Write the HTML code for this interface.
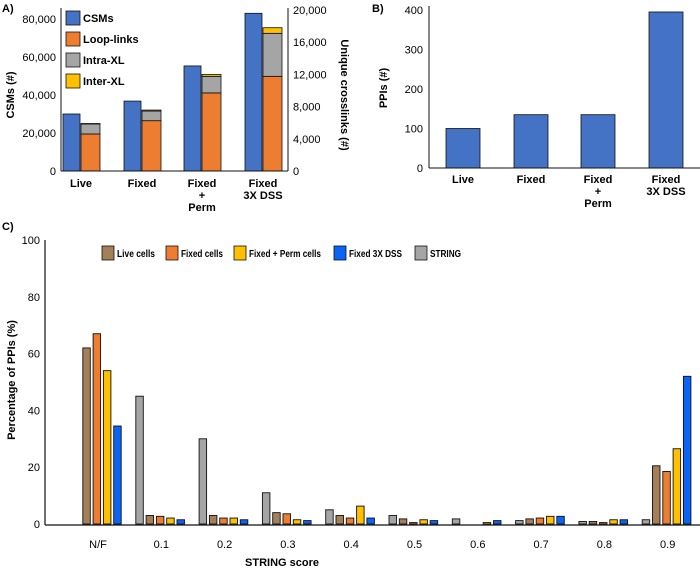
<!DOCTYPE html>
<html><head><meta charset="utf-8"><style>
body{margin:0;background:#fff}
svg{display:block;font-family:"Liberation Sans",Arial,sans-serif}
.b{font-weight:bold}
</style></head><body>
<svg id="s" width="700" height="568" viewBox="0 0 700 568"></svg>
<script>
const aCats=[["Live"],["Fixed"],["Fixed","+","Perm"],["Fixed","3X DSS"]];
const aCSM=[30000,36800,55300,83000];
const aLoop=[4600,6250,9700,11760];
const aIntra=[1240,1200,2060,5340];
const aInter=[60,120,240,700];
const aLeftTicks=[0,20000,40000,60000,80000];
const aRightTicks=[0,4000,8000,12000,16000,20000];
const bVals=[100,135,135,395];
const bTicks=[0,100,200,300,400];
const cCats=["N/F","0.1","0.2","0.3","0.4","0.5","0.6","0.7","0.8","0.9"];
const cString=[0,45,30,11,5,3,1.8,1.2,0.9,1.5];
const cLive=[62,3,3,4,3,1.8,0,1.8,0.9,20.5];
const cFixed=[67,2.7,2.1,3.6,2.1,0.5,0,2.1,0.5,18.5];
const cPerm=[54,2.1,2.1,1.5,6.3,1.5,0.5,2.7,1.5,26.5];
const cDSS=[34.5,1.5,1.5,1.2,2.1,1.2,1.2,2.7,1.5,52];
const cTicks=[0,20,40,60,80,100];

const S=document.getElementById('s');const NS="http://www.w3.org/2000/svg";
function mk(t,a,txt){const e=document.createElementNS(NS,t);for(const k in a)e.setAttribute(k,a[k]);if(txt!==undefined)e.textContent=txt;S.appendChild(e);return e;}
function fmt(v){return v.toLocaleString('en-US');}
const BLUE="#4472c4",OR="#ed7d31",GR="#a5a5a5",YE="#ffc000";

// ---- Panel A ----
let e;
e=mk('text',{x:2,y:12,'font-size':11,class:'b'},'A)');


const ayL=v=>171-v*(152/80000), ayR=v=>171-v*(161/20000);
aLeftTicks.forEach(t=>{e=mk('text',{x:56,y:ayL(t)+4,'font-size':11,'text-anchor':'end'},fmt(t));

});
aRightTicks.forEach(t=>{e=mk('text',{x:293,y:ayR(t)+4,'font-size':11},fmt(t));

});
e=mk('text',{x:0,y:0,'font-size':11,class:'b','text-anchor':'middle',transform:'translate(14,95) rotate(-90)'},'CSMs (#)');


e=mk('text',{x:0,y:0,'font-size':11,class:'b','text-anchor':'middle',transform:'translate(341,95) rotate(90)'},'Unique crosslinks (#)');


const aX=[63,124,184,245];
aCats.forEach((c,i)=>{
 const x=aX[i];
 e=mk('rect',{x:x,y:ayL(aCSM[i]),width:17,height:171-ayL(aCSM[i]),fill:BLUE,stroke:'#111','stroke-width':0.8});
 
 
 let base=0;const x2=x+18;
 [[aLoop,OR,'a-loop-bar'],[aIntra,GR,'a-intra-bar'],[aInter,YE,'a-inter-bar']].forEach(([arr,col,nm])=>{
  const y0=ayR(base),y1=ayR(base+arr[i]);
  e=mk('rect',{x:x2,y:y1,width:19,height:y0-y1,fill:col,stroke:'#111','stroke-width':0.8});
  
  
  base+=arr[i];});
 c.forEach((l,j)=>{e=mk('text',{x:x+18,y:187+j*12,'font-size':11,class:'b','text-anchor':'middle'},l);
 
 });
});
mk('line',{x1:61,y1:8,x2:61,y2:171,stroke:'#111','stroke-width':1});
mk('line',{x1:61,y1:171,x2:288,y2:171,stroke:'#111','stroke-width':1});
mk('line',{x1:288,y1:8,x2:288,y2:171,stroke:'#111','stroke-width':1});
[['CSMs',BLUE,11],['Loop-links',OR,32],['Intra-XL',GR,53],['Inter-XL',YE,74]].forEach(([t,c,y])=>{
 e=mk('rect',{x:66,y:y,width:14,height:14,fill:c,stroke:'#111','stroke-width':0.8});
 
 
 e=mk('text',{x:83,y:y+11,'font-size':11,class:'b'},t);
 
 
});

// ---- Panel B ----
e=mk('text',{x:372,y:12,'font-size':11,class:'b'},'B)');


const by=v=>168-v*(158/400);
bTicks.forEach(t=>{e=mk('text',{x:423,y:by(t)+4,'font-size':11,'text-anchor':'end'},t);

});
e=mk('text',{x:0,y:0,'font-size':11,class:'b','text-anchor':'middle',transform:'translate(387,88) rotate(-90)'},'PPIs (#)');


const bX=[446,514,581,649];
bVals.forEach((v,i)=>{
 e=mk('rect',{x:bX[i],y:by(v),width:34,height:168-by(v),fill:BLUE,stroke:'#111','stroke-width':0.8});
 
 
 aCats[i].forEach((l,j)=>{e=mk('text',{x:bX[i]+17,y:183+j*12,'font-size':11,class:'b','text-anchor':'middle'},l);
 
 });
});
mk('line',{x1:429,y1:6,x2:429,y2:168,stroke:'#111','stroke-width':1});
mk('line',{x1:429,y1:168,x2:700,y2:168,stroke:'#111','stroke-width':1});

// ---- Panel C ----
e=mk('text',{x:2,y:230,'font-size':11,class:'b'},'C)');


const cy=v=>524-v*(284/100);
cTicks.forEach(t=>{e=mk('text',{x:40,y:cy(t)+4,'font-size':11,'text-anchor':'end'},t);

});
e=mk('text',{x:0,y:0,'font-size':11,class:'b','text-anchor':'middle',transform:'translate(15,380) rotate(-90)'},'Percentage of PPIs (%)');


const series=[[cString,GR,'c-string-bar'],[cLive,'#a57f57','c-live-bar'],[cFixed,OR,'c-fixed-bar'],[cPerm,YE,'c-perm-bar'],[cDSS,'#0a64f5','c-dss-bar']];
const cx=i=>98+i*63.3;
cCats.forEach((c,i)=>{
 series.forEach(([arr,col,nm],k)=>{
  const v=arr[i];if(v<=0)return;
  const x=cx(i)-25.5+k*10.3;
  e=mk('rect',{x:x,y:cy(v),width:7.5,height:524-cy(v),fill:col,stroke:'#111','stroke-width':0.9});
  
  
 });
 e=mk('text',{x:cx(i),y:548,'font-size':11,'text-anchor':'middle'},c);
 
 
});
mk('line',{x1:45,y1:240,x2:45,y2:525,stroke:'#111','stroke-width':1.2});
mk('line',{x1:45,y1:525,x2:700,y2:525,stroke:'#111','stroke-width':1.2});
e=mk('text',{x:282,y:566,'font-size':11,class:'b','text-anchor':'middle'},'STRING score');


[['Live cells','#a57f57',102,38],['Fixed cells',OR,166,42],['Fixed + Perm cells',YE,234,72],['Fixed 3X DSS','#0a64f5',334,53],['STRING',GR,415,31]].forEach(([t,c,x,w])=>{
 e=mk('rect',{x:x,y:246,width:12,height:14,fill:c,stroke:'#111','stroke-width':0.8});
 
 
 e=mk('text',{x:x+15,y:257,'font-size':10.5,class:'b',textLength:w,lengthAdjust:'spacingAndGlyphs'},t);
 
 
});
</script>
</body></html>
